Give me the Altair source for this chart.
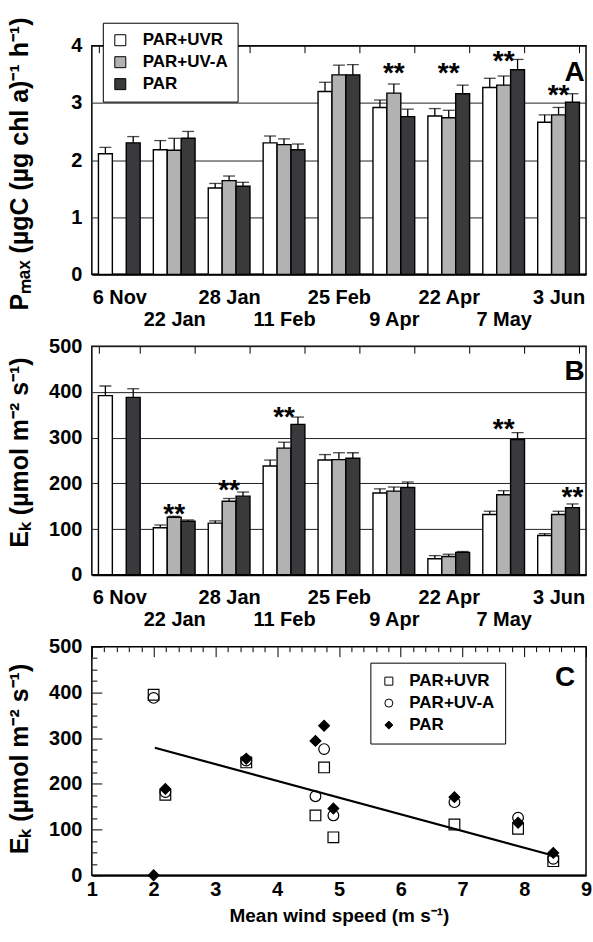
import json
import altair as alt
import pandas as pd

FONT = "Liberation Sans"

# ---------------- data ----------------
dates = ["6 Nov", "22 Jan", "28 Jan", "11 Feb", "25 Feb", "9 Apr", "22 Apr", "7 May", "3 Jun"]
lower_row = ["22 Jan", "11 Feb", "9 Apr", "7 May"]
series = ["PAR+UVR", "PAR+UV-A", "PAR"]
bar_colors = ["#ffffff", "#b2b2b2", "#3a3a3c"]

# Panel A: Pmax
pmax_uvr = [2.11, 2.18, 1.51, 2.30, 3.20, 2.92, 2.77, 3.27, 2.66]
pmax_uva = [None, 2.17, 1.64, 2.27, 3.49, 3.17, 2.74, 3.31, 2.79]
pmax_par = [2.30, 2.38, 1.54, 2.18, 3.49, 2.76, 3.16, 3.58, 3.01]
pmax_uvr_err = [0.11, 0.16, 0.08, 0.12, 0.16, 0.13, 0.13, 0.16, 0.13]
pmax_uva_err = [None, 0.21, 0.08, 0.10, 0.17, 0.16, 0.13, 0.16, 0.13]
pmax_par_err = [0.11, 0.12, 0.07, 0.10, 0.18, 0.13, 0.15, 0.18, 0.15]
starsA_dates = ["9 Apr", "22 Apr", "7 May", "3 Jun"]
starsA_series = ["PAR+UV-A", "PAR+UV-A", "PAR+UV-A", "PAR+UV-A"]
starsA_y = [3.63, 3.63, 3.84, 3.24]

# Panel B: Ek
ek_uvr = [392, 103, 113, 238, 251, 179, 35, 132, 86]
ek_uva = [None, 126, 161, 277, 252, 183, 40, 175, 132]
ek_par = [388, 117, 172, 329, 255, 191, 49, 296, 147]
ek_uvr_err = [21, 6, 5, 13, 12, 9, 7, 7, 4]
ek_uva_err = [None, 2, 6, 13, 15, 9, 5, 9, 7]
ek_par_err = [19, 3, 9, 16, 12, 12, 2, 15, 8]
starsB_dates = ["22 Jan", "28 Jan", "11 Feb", "7 May", "3 Jun"]
starsB_series = ["PAR+UV-A", "PAR+UV-A", "PAR+UV-A", "PAR+UV-A", "PAR"]
starsB_y = [147, 199, 359, 331, 183]

# Panel C: Ek vs wind speed
wind = [2.0, 7.9, 6.87, 4.76, 3.5, 2.19, 8.47, 4.62, 4.91]
c_uvr = [395, 102, 111, 236, 247, 176, 31, 131, 83]
c_uva = [388, 126, 160, 276, 251, 182, 36, 173, 131]
c_par = [0, 115, 171, 327, 255, 189, 49, 294, 146]
fit_x = [2.02, 8.45]
fit_y = [279, 44]

W, H = 495, 229
LBL = 20      # tick label size
TTL = 25      # y title size


def bar_frame(vals, errs):
    rows = []
    for s, vs, es in zip(series, vals, errs):
        for d, v, e in zip(dates, vs, es):
            if v is None:
                continue
            rows.append({"date": d, "series": s, "value": v, "upper": v + e})
    return pd.DataFrame(rows)


xscale = alt.Scale(domain=dates, paddingInner=0.24, paddingOuter=0.12)
xoff = alt.XOffset("series:N", scale=alt.Scale(domain=series), sort=series)

x_axis = alt.Axis(
    title=None, labelFont=FONT, labelFontSize=LBL, labelFontWeight="bold", labelColor="black",
    labelAngle=0, labelOverlap=False, labelPadding=13, labelLineHeight=22, labelBaseline="top",
    labelExpr="indexof(" + json.dumps(lower_row) + ", datum.value) >= 0 ? ['', datum.label] : datum.label",
    ticks=False, domainColor="black", domainWidth=2,
    grid=True, tickBand="extent", gridColor="black", gridWidth=1, gridDash=[7, 1000],
)


def bar_panel(vals, errs, sd, ss, sy, ymax, ystep, title, ty, letter, letter_y, legend):
    df = bar_frame(vals, errs)
    yscale = alt.Scale(domain=[0, ymax], nice=False)
    y_axis = alt.Axis(
        title=title, values=list(range(0, ymax + 1, ystep)),
        titleFont=FONT, titleFontSize=TTL, titleFontWeight="bold", titleColor="black",
        titleBaseline="alphabetic", titleX=-64, titleY=ty,
        labelFont=FONT, labelFontSize=LBL, labelFontWeight="bold", labelColor="black", labelPadding=10,
        ticks=False, domain=False, grid=True, gridColor="#222222", gridWidth=1,
    )
    X = alt.X("date:N", sort=dates, scale=xscale, axis=x_axis)
    bars = alt.Chart(df).mark_bar(stroke="black", strokeWidth=1.4).encode(
        x=X, xOffset=xoff,
        y=alt.Y("value:Q", scale=yscale, axis=y_axis),
        color=alt.Color("series:N", scale=alt.Scale(domain=series, range=bar_colors), legend=legend),
    )
    rules = alt.Chart(df).mark_rule(color="black", strokeWidth=1.3).encode(
        x=X, xOffset=xoff,
        y=alt.Y("value:Q", scale=yscale, axis=y_axis),
        y2="upper:Q",
    )
    caps = alt.Chart(df).mark_tick(color="black", thickness=1.3, size=12).encode(
        x=X, xOffset=xoff,
        y=alt.Y("upper:Q", scale=yscale, axis=y_axis),
    )
    sdf = pd.DataFrame({"date": sd, "series": ss, "value": sy, "label": ["**"] * len(sd)})
    stars = alt.Chart(sdf).mark_text(font=FONT, fontSize=28, fontWeight="bold", color="black",
                                     baseline="alphabetic", dy=15).encode(
        x=X, xOffset=xoff,
        y=alt.Y("value:Q", scale=yscale, axis=y_axis),
        text="label:N",
    )
    ldf = pd.DataFrame({"date": ["3 Jun"], "value": [letter_y], "label": [letter]})
    let = alt.Chart(ldf).mark_text(font=FONT, fontSize=28, fontWeight="bold", color="black",
                                   baseline="alphabetic", dx=16).encode(
        x=X,
        y=alt.Y("value:Q", scale=yscale, axis=y_axis),
        text="label:N",
    )
    return alt.layer(bars, rules, caps, stars, let).properties(width=W, height=H)


legA = alt.Legend(
    title=None, orient="none", legendX=11, legendY=-23, direction="vertical",
    fillColor="white", strokeColor="black", padding=9, rowPadding=4,
    symbolType="square", symbolSize=121, symbolStrokeColor="black", symbolStrokeWidth=1,
    labelFont=FONT, labelFontSize=17, labelFontWeight="bold", labelColor="black", labelOffset=14,
)

panelA = bar_panel([pmax_uvr, pmax_uva, pmax_par], [pmax_uvr_err, pmax_uva_err, pmax_par_err],
                   starsA_dates, starsA_series, starsA_y, 4, 1,
                   "Pₘₐₓ (µgC (µg chl a)⁻¹ h⁻¹)", 118, "A", 3.39, legA)
panelB = bar_panel([ek_uvr, ek_uva, ek_par], [ek_uvr_err, ek_uva_err, ek_par_err],
                   starsB_dates, starsB_series, starsB_y, 500, 100,
                   "Eₖ (µmol m⁻² s⁻¹)", 106, "B", 426, None)

# ---------------- panel C ----------------
c_rows = []
for s, vs in zip(series, [c_uvr, c_uva, c_par]):
    for w, v in zip(wind, vs):
        c_rows.append({"wind": w, "ek": v, "series": s})
cdf = pd.DataFrame(c_rows)

cx_vals = [round(1 + 0.2 * i, 1) for i in range(41)]
cy_vals = list(range(0, 501, 25))
int_test = "abs(datum.value - round(datum.value)) < 0.001"
hund_test = "datum.value % 100 === 0"

cx_axis = alt.Axis(
    values=cx_vals, title="Mean wind speed (m s⁻¹)",
    titleFont=FONT, titleFontSize=19, titleFontWeight="bold", titleColor="black", titlePadding=7,
    labelExpr=int_test + " ? format(datum.value, '.0f') : ''",
    labelFont=FONT, labelFontSize=LBL, labelFontWeight="bold", labelColor="black",
    labelOverlap=False, labelFlush=False, labelPadding=4,
    ticks=False, domainColor="black", domainWidth=2,
    grid=True, gridColor="black", gridWidth=1,
    gridDash={"condition": {"test": int_test, "value": [10, 1000]}, "value": [5, 1000]},
)
cy_axis = alt.Axis(
    values=cy_vals, title="Eₖ (µmol m⁻² s⁻¹)",
    titleFont=FONT, titleFontSize=TTL, titleFontWeight="bold", titleColor="black",
    titleBaseline="alphabetic", titleX=-64, titleY=112,
    labelExpr=hund_test + " ? format(datum.value, '.0f') : ''",
    labelFont=FONT, labelFontSize=LBL, labelFontWeight="bold", labelColor="black", labelPadding=10,
    labelOverlap=False,
    ticks=False, domain=False, grid=True, gridColor="black", gridWidth=1,
    gridDash={"condition": {"test": hund_test, "value": [10, 1000]}, "value": [5, 1000]},
)
legC = alt.Legend(
    title=None, orient="none", legendX=279, legendY=16, direction="vertical",
    fillColor="white", strokeColor="black", padding=10, rowPadding=4,
    symbolSize=64, symbolStrokeWidth=1,
    labelFont=FONT, labelFontSize=17, labelFontWeight="bold", labelColor="black", labelOffset=12,
)
cxs = alt.Scale(domain=[1, 9], nice=False, zero=False)
cys = alt.Scale(domain=[0, 500], nice=False)
CX = alt.X("wind:Q", scale=cxs, axis=cx_axis)
CY = alt.Y("ek:Q", scale=cys, axis=cy_axis)

pts = alt.Chart(cdf).mark_point(filled=True, strokeWidth=1.2, size=115, opacity=1).encode(
    x=CX, y=CY,
    shape=alt.Shape("series:N", scale=alt.Scale(domain=series, range=["square", "circle", "diamond"]), legend=legC),
    fill=alt.Fill("series:N", scale=alt.Scale(domain=series, range=["rgba(0,0,0,0)", "rgba(0,0,0,0)", "black"]), legend=legC),
    stroke=alt.Stroke("series:N", scale=alt.Scale(domain=series, range=["black", "black", "black"]), legend=legC),
)
fit = alt.Chart(pd.DataFrame({"wind": fit_x, "ek": fit_y})).mark_line(color="black", strokeWidth=2.2).encode(
    x=CX, y=CY,
)
cl = alt.Chart(pd.DataFrame({"wind": [8.66], "ek": [413], "label": ["C"]})).mark_text(
    font=FONT, fontSize=28, fontWeight="bold", color="black", baseline="alphabetic").encode(
    x=CX, y=CY, text="label:N",
)
panelC = alt.layer(fit, pts, cl).properties(width=W, height=H)

chart = alt.vconcat(panelA, panelB, panelC, spacing=72, bounds="flush").resolve_scale(
    color="independent", shape="independent", fill="independent", stroke="independent"
).resolve_legend(
    color="independent", shape="independent", fill="independent", stroke="independent"
).properties(
    padding={"left": 7, "top": 15, "right": 0, "bottom": 8},
    background="white",
).configure(font=FONT).configure_view(stroke="black", strokeWidth=1.5)

chart.save("out.html", embed_options={"renderer": "svg", "actions": False})
